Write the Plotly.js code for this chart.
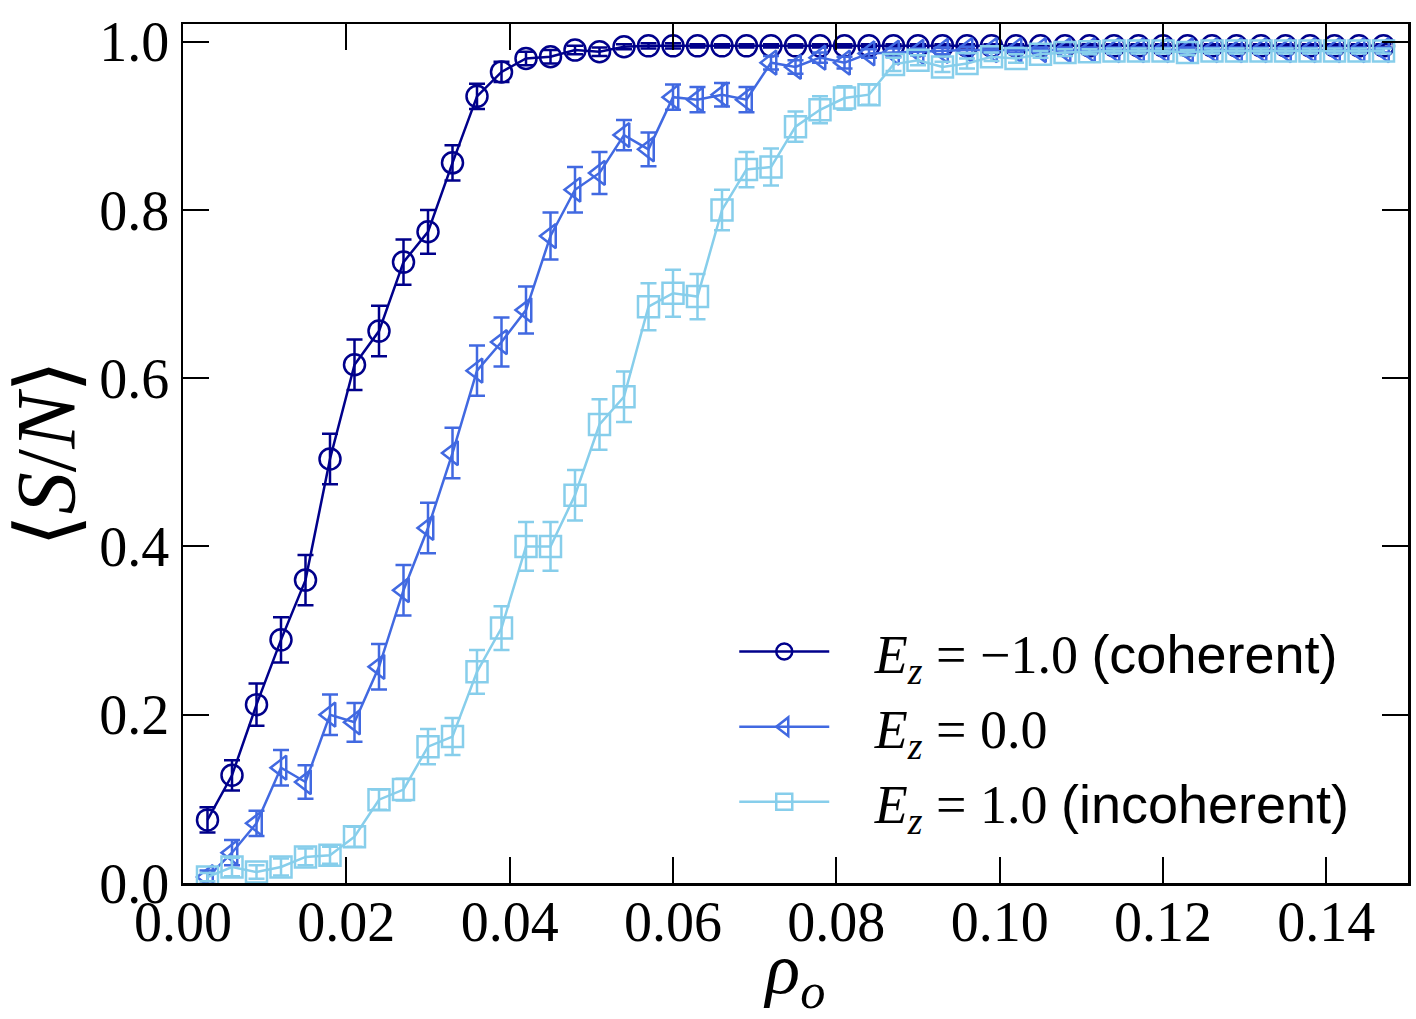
<!DOCTYPE html>
<html>
<head>
<meta charset="utf-8">
<script src="https://cdn.plot.ly/plotly-3.0.1.min.js"></script>
<style>html,body{margin:0;padding:0;background:#fff;}#chart{width:1416px;height:1019px;}</style>
</head>
<body>
<div id="chart"></div>
<script>
const rho = [0.003,0.006,0.009,0.012,0.015,0.018,0.021,0.024,0.027,0.030,
             0.033,0.036,0.039,0.042,0.045,0.048,0.051,0.054,0.057,0.060,
             0.063,0.066,0.069,0.072,0.075,0.078,0.081,0.084,0.087,0.090,
             0.093,0.096,0.099,0.102,0.105,0.108,0.111,0.114,0.117,0.120,
             0.123,0.126,0.129,0.132,0.135,0.138,0.141,0.144,0.147];

const coherentY = [0.075,0.128,0.212,0.289,0.360,0.504,0.616,0.656,0.738,0.774,
                   0.856,0.935,0.964,0.980,0.982,0.990,0.988,0.994,0.995,0.995,
                   0.995,0.995,0.995,0.995,0.995,0.995,0.995,0.995,0.995,0.995,
                   0.995,0.995,0.995,0.995,0.995,0.995,0.995,0.995,0.995,0.995,
                   0.995,0.995,0.995,0.995,0.995,0.995,0.995,0.995,0.995];
const coherentErr = [0.015,0.018,0.025,0.027,0.030,0.030,0.030,0.030,0.027,0.026,
                     0.021,0.015,0.012,0.008,0.008,0.005,0.005,0.003,0.003,0.003,
                     0.002,0.002,0.002,0.002,0.002,0.002,0.002,0.002,0.002,0.002,
                     0.002,0.002,0.002,0.002,0.002,0.002,0.002,0.002,0.002,0.002,
                     0.002,0.002,0.002,0.002,0.002,0.002,0.002,0.002,0.002];

const neutralY = [0.007,0.036,0.071,0.137,0.120,0.200,0.191,0.257,0.348,0.422,
                  0.511,0.609,0.643,0.681,0.769,0.824,0.844,0.889,0.872,0.934,
                  0.931,0.937,0.931,0.975,0.970,0.981,0.975,0.986,0.987,0.988,
                  0.989,0.990,0.990,0.990,0.990,0.990,0.990,0.990,0.990,0.990,
                  0.990,0.990,0.990,0.990,0.990,0.990,0.990,0.990,0.990];
const neutralErr = [0.008,0.015,0.015,0.021,0.020,0.024,0.023,0.027,0.030,0.030,
                    0.030,0.030,0.029,0.028,0.028,0.027,0.025,0.018,0.020,0.015,
                    0.015,0.014,0.015,0.008,0.008,0.006,0.007,0.005,0.005,0.004,
                    0.004,0.004,0.003,0.003,0.003,0.003,0.003,0.003,0.003,0.003,
                    0.003,0.003,0.003,0.003,0.003,0.003,0.003,0.003,0.003];

const incoherentY = [0.007,0.019,0.013,0.019,0.031,0.033,0.055,0.099,0.111,0.162,
                     0.174,0.251,0.303,0.400,0.400,0.461,0.545,0.578,0.685,0.701,
                     0.697,0.800,0.848,0.851,0.899,0.919,0.933,0.937,0.973,0.978,
                     0.970,0.974,0.982,0.980,0.985,0.987,0.988,0.989,0.989,0.989,
                     0.987,0.989,0.989,0.989,0.989,0.989,0.989,0.989,0.989];
const incoherentErr = [0.005,0.011,0.008,0.010,0.010,0.010,0.012,0.012,0.013,0.021,
                       0.022,0.026,0.026,0.029,0.029,0.030,0.030,0.030,0.028,0.028,
                       0.027,0.024,0.021,0.022,0.018,0.016,0.014,0.012,0.008,0.006,
                       0.006,0.006,0.005,0.005,0.004,0.004,0.003,0.003,0.003,0.003,
                       0.003,0.003,0.003,0.003,0.003,0.003,0.003,0.003,0.003];

const sans = 'font-family:Liberation Sans, Arial, sans-serif';
const seriesNames = [
  '\u00a0\u00a0\u00a0<i>E</i><sub><i>z</i></sub> = −1.0 <span style="' + sans + '">(coherent)</span>',
  '\u00a0\u00a0\u00a0<i>E</i><sub><i>z</i></sub> = 0.0',
  '\u00a0\u00a0\u00a0<i>E</i><sub><i>z</i></sub> = 1.0 <span style="' + sans + '">(incoherent)</span>'
];
const xTicks = [0.00,0.02,0.04,0.06,0.08,0.10,0.12,0.14];
const xTickText = ['0.00','0.02','0.04','0.06','0.08','0.10','0.12','0.14'];
const yTicks = [0.0,0.2,0.4,0.6,0.8,1.0];
const yTickText = ['0.0','0.2','0.4','0.6','0.8','1.0'];

const colors = ['#00008B', '#4169E1', '#87CEEB'];
const symbols = ['circle-open', 'triangle-left-open', 'square-open'];
const ys = [coherentY, neutralY, incoherentY];
const errs = [coherentErr, neutralErr, incoherentErr];

const traces = ys.map((y, i) => ({
  type: 'scatter',
  mode: 'lines+markers',
  x: rho,
  y: y,
  name: seriesNames[i],
  legendgroup: 'g' + i,
  line: {color: colors[i], width: 2.5},
  marker: {symbol: symbols[i], size: 21, color: colors[i], line: {color: colors[i], width: 2.5}},
  error_y: {type: 'data', array: errs[i], visible: true, color: colors[i], thickness: 2.5, width: 8}
}));

const serif = 'Liberation Serif, DejaVu Serif, serif';

const layout = {
  width: 1416,
  height: 1019,
  margin: {l: 183, r: 8, t: 24, b: 136},
  paper_bgcolor: '#ffffff',
  plot_bgcolor: '#ffffff',
  showlegend: true,
  legend: {
    x: 0.45, y: 0.318, xanchor: 'left', yanchor: 'top',
    bgcolor: 'rgba(0,0,0,0)', borderwidth: 0,
    font: {family: serif, size: 54, color: '#000'},
    itemwidth: 90,
    traceorder: 'grouped',
    tracegroupgap: 2
  },
  xaxis: {
    range: [0, 0.15],
    tickvals: xTicks, ticktext: xTickText,
    ticks: 'inside', ticklen: 26, tickwidth: 2, tickcolor: '#000',
    showline: true, linewidth: 2.5, linecolor: '#000', mirror: 'ticks',
    showgrid: false, zeroline: false,
    ticklabelstandoff: -12,
    tickfont: {family: serif, size: 56, color: '#000'},
    title: {text: '<i>ρ</i><sub><i>o</i></sub>', font: {family: serif, size: 72, color: '#000'}, standoff: 28}
  },
  yaxis: {
    range: [0, 1.021],
    tickvals: yTicks, ticktext: yTickText,
    ticks: 'inside', ticklen: 26, tickwidth: 2, tickcolor: '#000',
    showline: true, linewidth: 2.5, linecolor: '#000', mirror: 'ticks',
    showgrid: false, zeroline: false,
    tickfont: {family: serif, size: 56, color: '#000'},
    title: {text: '⟨<i>S</i>/<i>N</i>⟩', font: {family: serif, size: 84, color: '#000'}, standoff: 4}
  }
};

Plotly.newPlot('chart', traces, layout, {staticPlot: true, displayModeBar: false});
</script>
</body>
</html>
